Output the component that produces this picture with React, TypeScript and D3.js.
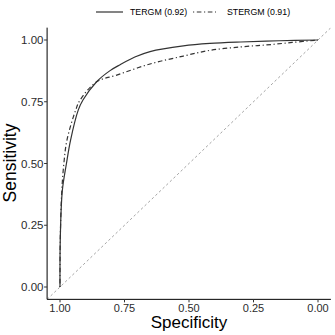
import React from "react";
import * as d3 from "d3";

const tergmSpec = [1, 0.999, 0.991, 0.975, 0.959, 0.929, 0.911, 0.858, 0.806, 0.767, 0.71, 0.651, 0.522, 0.419, 0.3, 0.15, 0];
const tergmSens = [0, 0.19, 0.39, 0.5, 0.595, 0.717, 0.757, 0.831, 0.876, 0.9, 0.931, 0.953, 0.976, 0.986, 0.992, 0.997, 1];
const stergmSpec = [1, 0.999, 0.993, 0.985, 0.973, 0.939, 0.922, 0.858, 0.78, 0.651, 0.522, 0.419, 0.3, 0.2, 0.1, 0];
const stergmSens = [0, 0.19, 0.39, 0.5, 0.595, 0.717, 0.757, 0.831, 0.858, 0.903, 0.935, 0.958, 0.972, 0.98, 0.99, 1];
const tickValues = [1, 0.75, 0.5, 0.25, 0];
const seriesNames = ["TERGM (0.92)", "STERGM (0.91)"];

const FONT = "'Liberation Sans', Arial, Helvetica, sans-serif";

export default function App() {
  const x = d3.scaleLinear().domain([1, 0]).range([60, 318]);
  const y = d3.scaleLinear().domain([0, 1]).range([287, 40]);
  const [px0, px1] = [x(1.05), x(-0.05)];
  const [py0, py1] = [y(-0.05), y(1.05)];

  const line = d3
    .line<[number, number]>()
    .x((d) => x(d[0]))
    .y((d) => y(d[1]))
    .curve(d3.curveCatmullRom.alpha(0.5));

  const tergm = tergmSpec.map((s, i) => [s, tergmSens[i]] as [number, number]);
  const stergm = stergmSpec.map((s, i) => [s, stergmSens[i]] as [number, number]);

  const fmt = d3.format(".2f");

  return (
    <svg
      width={335}
      height={335}
      style={{ position: "absolute", left: 0, top: 0, background: "#fff" }}
      fontFamily={FONT}
    >
      <defs>
        <clipPath id="panel">
          <rect x={px0} y={py1} width={px1 - px0} height={py0 - py1} />
        </clipPath>
      </defs>
      <line
        clipPath="url(#panel)"
        x1={x(1.05)}
        y1={y(-0.05)}
        x2={x(-0.05)}
        y2={y(1.05)}
        stroke="#9a9a9a"
        strokeWidth={0.9}
        strokeDasharray="2.5,2.5"
      />
      <path d={line(stergm) || ""} fill="none" stroke="#333" strokeWidth={1.2} strokeDasharray="1.2,2.6,4.6,2.6" />
      <path d={line(tergm) || ""} fill="none" stroke="#333" strokeWidth={1.2} />

      <line x1={px0} x2={px1} y1={py0} y2={py0} stroke="#000" strokeWidth={1} />
      <line x1={px0} x2={px0} y1={py0} y2={py1} stroke="#000" strokeWidth={1} />
      {tickValues.map((t) => (
        <g key={"x" + t}>
          <line x1={x(t)} x2={x(t)} y1={py0} y2={py0 + 3} stroke="#333" />
          <text x={x(t)} y={311.5} textAnchor="middle" fontSize={11} fill="#2b2b2b">
            {fmt(t)}
          </text>
        </g>
      ))}
      {tickValues.map((t) => (
        <g key={"y" + t}>
          <line x1={px0 - 3} x2={px0} y1={y(t)} y2={y(t)} stroke="#333" />
          <text x={43.5} y={y(t) + 4} textAnchor="end" fontSize={11.5} fill="#2b2b2b">
            {fmt(t)}
          </text>
        </g>
      ))}
      <text x={189} y={328} textAnchor="middle" fontSize={17} fill="#000">
        Specificity
      </text>
      <text
        transform={`translate(15.5,163) rotate(-90)`}
        textAnchor="middle"
        fontSize={17.5}
        fill="#000"
      >
        Sensitivity
      </text>

      <line x1={96} x2={123} y1={12} y2={12} stroke="#333" strokeWidth={1.2} />
      <text x={130} y={15} fontSize={8.8} fill="#000">
        {seriesNames[0]}
      </text>
      <line x1={193} x2={216} y1={12} y2={12} stroke="#333" strokeWidth={1.2} strokeDasharray="1.2,2.6,4.6,2.6" />
      <text x={227} y={15} fontSize={8.8} fill="#000">
        {seriesNames[1]}
      </text>
    </svg>
  );
}
